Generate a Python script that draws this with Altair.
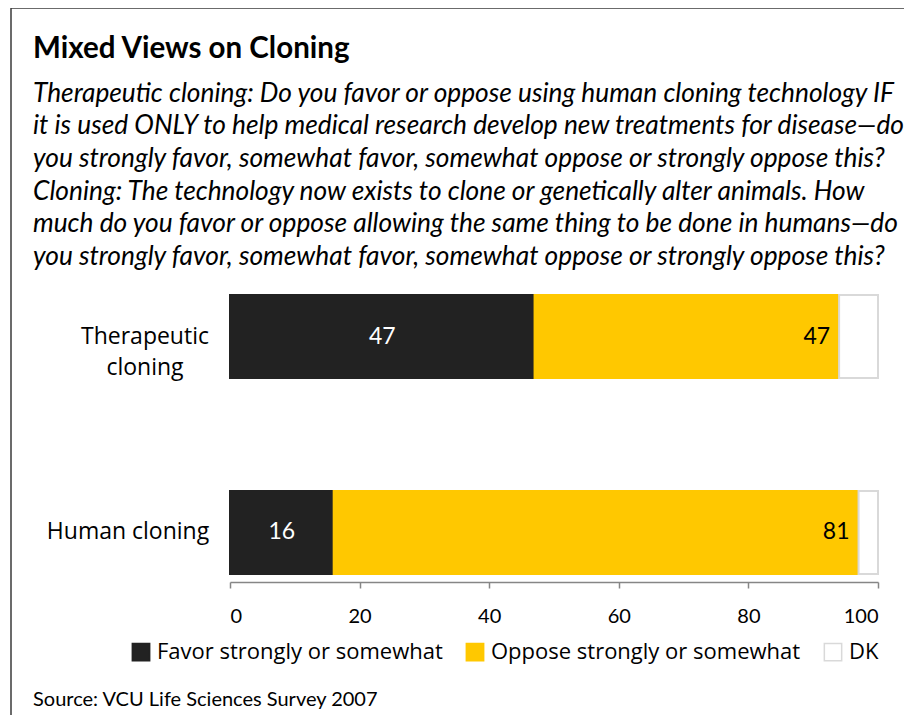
import altair as alt
import pandas as pd

categories = ["Therapeutic cloning", "Human cloning"]
category_labels = ["Therapeutic\ncloning", "Human cloning"]
favor = [47, 16]
oppose = [47, 81]
dk = [6, 3]

series = ["Favor strongly or somewhat", "Oppose strongly or somewhat", "DK"]
colors = ["#222222", "#FFC800", "#FFFFFF"]
strokes = ["#222222", "#FFC800", "#D9D9D9"]
x_ticks = [0, 20, 40, 60, 80, 100]

title_text = "Mixed Views on Cloning"
subtitle_lines = [
    "Therapeutic cloning: Do you favor or oppose using human cloning technology IF",
    "it is used ONLY to help medical research develop new treatments for disease\u2014do",
    "you strongly favor, somewhat favor, somewhat oppose or strongly oppose this?",
    "Cloning: The technology now exists to clone or genetically alter animals. How",
    "much do you favor or oppose allowing the same thing to be done in humans\u2014do",
    "you strongly favor, somewhat favor, somewhat oppose or strongly oppose this?",
]
source_text = "Source: VCU Life Sciences Survey 2007"

df = pd.DataFrame({
    "category": categories,
    "label": category_labels,
    series[0]: favor,
    series[1]: oppose,
    series[2]: dk,
})

base = alt.Chart(df)
one = alt.Chart(pd.DataFrame({"title": [title_text],
                              "subtitle": ["\n".join(subtitle_lines)],
                              "source": [source_text]}))

y_enc = alt.Y(
    "category:N",
    sort=categories,
    scale=alt.Scale(paddingInner=0.5765, paddingOuter=0.041),
    axis=None,
)
x_scale = alt.Scale(domain=[0, 100], nice=False, zero=True)

bars = base.transform_fold(series, as_=["series", "value"]).transform_calculate(
    order="indexof(" + str(series) + ", datum.series)"
).mark_bar(strokeWidth=2).encode(
    y=y_enc,
    x=alt.X(
        "value:Q",
        stack="zero",
        scale=x_scale,
        axis=alt.Axis(
            values=x_ticks,
            title=None,
            grid=False,
            domainColor="#868686",
            domainWidth=1.5,
            tickColor="#868686",
            tickWidth=1.5,
            tickSize=6,
            labelFont="Lato",
            labelFontSize=20,
            labelColor="#000000",
            labelPadding=18,
        ),
    ),
    color=alt.Color(
        "series:N",
        scale=alt.Scale(domain=series, range=colors),
        legend=alt.Legend(
            title=None,
            orient="none",
            direction="horizontal",
            legendX=-100,
            legendY=354,
            symbolType="square",
            symbolSize=300,
            symbolStrokeWidth=1.5,
            symbolOpacity=1,
            labelFont="Open Sans",
            labelFontSize=22,
            labelColor="#000000",
            labelOffset=5,
            labelLimit=500,
            columnPadding=20,
        ),
    ),
    stroke=alt.Stroke(
        "series:N",
        scale=alt.Scale(domain=series, range=strokes),
        legend=alt.Legend(title=None),
    ),
    order=alt.Order("order:Q"),
)

favor_text = base.transform_calculate(mid=f"datum['{series[0]}'] / 2").mark_text(
    font="Lato", fontSize=23, color="#FFFFFF", align="center", baseline="middle"
).encode(
    y=y_enc,
    x=alt.X("mid:Q", scale=x_scale),
    text=alt.Text(f"{series[0]}:Q"),
)

oppose_text = base.transform_calculate(
    end=f"datum['{series[0]}'] + datum['{series[1]}']"
).mark_text(
    font="Lato", fontSize=23, color="#000000", align="right", baseline="middle", dx=-9
).encode(
    y=y_enc,
    x=alt.X("end:Q", scale=x_scale),
    text=alt.Text(f"{series[1]}:Q"),
)

cat_text_1 = base.transform_filter(alt.datum.category == categories[0]).mark_text(
    font="Open Sans", fontSize=23, color="#000000", align="center",
    baseline="middle", lineBreak="\n", lineHeight=31, dx=-85,
).encode(y=y_enc, x=alt.value(0), text="label:N")

cat_text_2 = base.transform_filter(alt.datum.category == categories[1]).mark_text(
    font="Open Sans", fontSize=23, color="#000000", align="center",
    baseline="middle", lineBreak="\n", lineHeight=31, dx=-102,
).encode(y=y_enc, x=alt.value(0), text="label:N")

title = one.mark_text(
    font="Lato", fontSize=29.5, fontWeight="bold", color="#000000",
    align="left", baseline="alphabetic",
).encode(x=alt.value(-197), y=alt.value(-229), text="title:N")

subtitle = one.mark_text(
    font="Lato", fontSize=26.3, fontStyle="italic", color="#000000",
    align="left", baseline="alphabetic", lineBreak="\n", lineHeight=32.7,
).encode(x=alt.value(-197), y=alt.value(-185.3), text="subtitle:N")

source = one.mark_text(
    font="Lato", fontSize=20, color="#000000", align="left", baseline="alphabetic"
).encode(x=alt.value(-197), y=alt.value(419), text="source:N")

border_top = one.mark_rule(color="#3a3a3a", strokeWidth=1.5).encode(
    x=alt.value(-219), x2=alt.value(680), y=alt.value(-279)
)
border_left = one.mark_rule(color="#3a3a3a", strokeWidth=1.5).encode(
    x=alt.value(-219), y=alt.value(-279), y2=alt.value(440)
)

chart = alt.layer(
    border_top, border_left, title, subtitle, bars, favor_text, oppose_text,
    cat_text_1, cat_text_2, source
).properties(
    width=648,
    height=295,
    autosize=alt.AutoSizeParams(type="none"),
    padding={"left": 222, "top": 279, "right": 26, "bottom": 133},
    background="#FFFFFF",
).configure_view(stroke=None)

chart.save("out.html", embed_options={"renderer": "svg", "actions": False})
